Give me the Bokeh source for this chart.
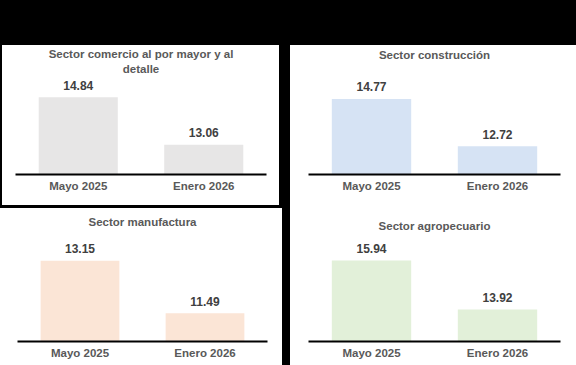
from bokeh.plotting import figure
from bokeh.models import FactorRange, Range1d, ColumnDataSource, LabelSet, Spacer, Title
from bokeh.layouts import row, column
from bokeh.core.properties import value
from bokeh.embed import file_html
from bokeh.resources import INLINE

# ---- data ----
categories = ["Mayo 2025", "Enero 2026"]
comercio = [14.84, 13.06]
construccion = [14.77, 12.72]
manufactura = [13.15, 11.49]
agropecuario = [15.94, 13.92]

title_comercio = ["Sector comercio al por mayor y al", "detalle"]
title_construccion = ["Sector construcción"]
title_manufactura = ["Sector manufactura"]
title_agropecuario = ["Sector agropecuario"]

FONT = "Liberation Sans"
BLACK = {"background-color": "black"}
WHITE = {"background-color": "white"}


def panel(title_lines, values, color, width, height, left, right, top, bottom, y0, y1):
    p = figure(
        x_range=FactorRange(factors=categories, range_padding=0),
        y_range=Range1d(y0, y1),
        width=width, height=height,
        min_border_left=left, min_border_right=right,
        min_border_top=top, min_border_bottom=bottom,
        y_axis_location=None,
        toolbar_location=None, output_backend="svg",
        styles=WHITE,
    )
    # titles: first added sits closest to the frame
    for i, line in enumerate(reversed(title_lines)):
        t = Title(text=line, align="center", text_font=FONT, text_font_size="11.5px",
                  text_font_style="bold", text_color="#595959",
                  standoff=(3 if i == 0 else 0))
        p.add_layout(t, "above")
    src = ColumnDataSource(dict(cat=categories, val=values,
                                lab=[f"{v:.2f}" for v in values]))
    p.vbar(x="cat", top="val", bottom=y0, width=0.63, source=src,
           fill_color=color, line_color=None)
    p.add_layout(LabelSet(x="cat", y="val", text="lab", source=src,
                          text_align="center", text_baseline="middle", y_offset=12,
                          text_font=value(FONT), text_font_size=value("12px"),
                          text_font_style=value("bold"), text_color=value("#404040")))
    for g in p.grid:
        g.visible = False
    p.outline_line_color = None
    p.background_fill_color = "white"
    p.border_fill_color = "white"
    ax = p.xaxis[0]
    ax.axis_line_color = "black"
    ax.axis_line_width = 2
    ax.major_tick_line_color = None
    ax.minor_tick_line_color = None
    ax.separator_line_color = None
    ax.major_tick_out = 0
    ax.major_tick_in = 0
    ax.major_label_standoff = 5
    ax.major_label_text_font = FONT
    ax.major_label_text_font_size = "11.5px"
    ax.major_label_text_font_style = "bold"
    ax.major_label_text_color = "#595959"
    return p


p_tl = panel(title_comercio, comercio, "#E7E6E6", 277, 160, 13, 13, 30, 31, 11.95, 15.62)
p_tr = panel(title_construccion, construccion, "#D6E3F4", 286, 160, 18, 16, 17, 31, 11.5, 16.35)
p_bl = panel(title_manufactura, manufactura, "#FBE5D6", 282, 157, 17, 15, 21, 24, 10.6, 14.14)
p_br = panel(title_agropecuario, agropecuario, "#E2F0D9", 286, 160, 15, 10, 28, 24, 12.6, 17.06)

left_col = column(
    row(Spacer(width=2, height=160, styles=BLACK), p_tl,
        Spacer(width=11, height=160, styles=BLACK), spacing=0),
    Spacer(width=290, height=3, styles=BLACK),
    row(p_bl, Spacer(width=8, height=157, styles=BLACK), spacing=0),
    spacing=0)
right_col = column(p_tr, p_br, spacing=0)
root = column(Spacer(width=576, height=45, styles=BLACK),
              row(left_col, right_col, spacing=0),
              spacing=0)

open("out.html", "w").write(file_html(root, INLINE))
